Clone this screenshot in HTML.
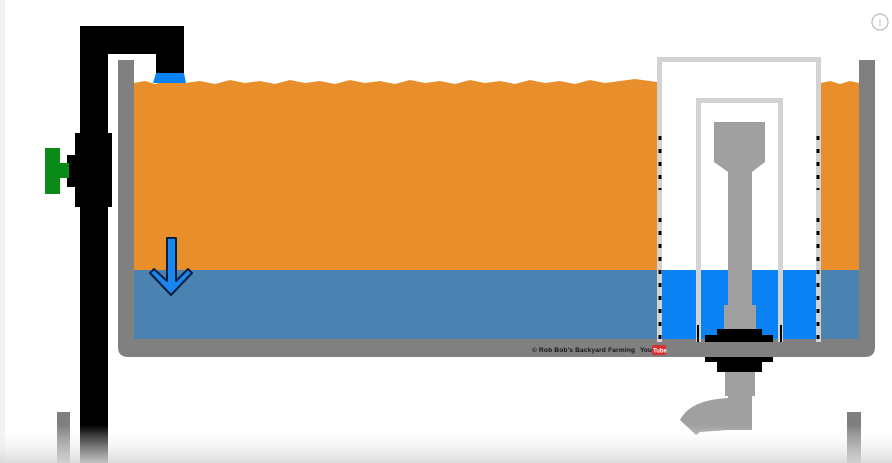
<!DOCTYPE html>
<html><head><meta charset="utf-8"><style>
html,body{margin:0;padding:0;width:892px;height:463px;overflow:hidden;background:#fff}
svg{display:block}
</style></head><body>
<svg width="892" height="463" viewBox="0 0 892 463" xmlns="http://www.w3.org/2000/svg">
<defs>
<linearGradient id="fade" x1="0" y1="0" x2="0" y2="1">
<stop offset="0" stop-color="#ffffff" stop-opacity="0"/>
<stop offset="1" stop-color="#d8d8d8" stop-opacity="0.9"/>
</linearGradient>
</defs>
<rect x="0" y="0" width="892" height="463" fill="#ffffff"/>
<rect x="0" y="0" width="5" height="463" fill="#f2f2f2"/>
<rect x="57" y="412" width="13" height="51" fill="#7f7f7f"/>
<rect x="847" y="412" width="14" height="51" fill="#7f7f7f"/>
<g>
<path d="M134 83 L145 81 L155 84 L170 80 L185 83 L200 81 L215 84 L230 80 L245 83 L260 81 L275 84 L290 80 L305 83 L320 81 L335 84 L350 80 L365 83 L380 81 L395 84 L410 80 L425 83 L440 81 L455 84 L470 80 L485 83 L500 81 L515 84 L530 80 L545 83 L560 81 L575 84 L590 80 L605 83 L620 81 L635 79 L657 82 L657 270 L134 270 Z" fill="#e88f2b"/>
<path d="M821 83 L830 81 L840 84 L850 81 L859 83 L859 270 L821 270 Z" fill="#e88f2b"/>
</g>
<rect x="134" y="270" width="525" height="72" fill="#4a83b1"/>
<rect x="819" y="270" width="40" height="72" fill="#4a83b1"/>
<rect x="661" y="270" width="157" height="72" fill="#0a82f5"/>
<path d="M118 60 H134 V339 H859 V60 H875 V347 Q875 357 865 357 H128 Q118 357 118 347 Z" fill="#808080"/>
<path d="M657 57 H821 V342 H816 V62 H662 V342 H657 Z" fill="#d3d3d3"/>
<path d="M696 98 H783 V342 H778 V103 H701 V342 H696 Z" fill="#d3d3d3"/>
<g stroke="#000" stroke-width="3" stroke-dasharray="4,9">
<line x1="660" y1="136" x2="660" y2="190"/>
<line x1="660" y1="218" x2="660" y2="342"/>
<line x1="818" y1="136" x2="818" y2="190"/>
<line x1="818" y1="218" x2="818" y2="342"/>
</g>
<rect x="697" y="325" width="2" height="17" fill="#000"/>
<rect x="780" y="325" width="2" height="17" fill="#000"/>
<path d="M714 122 H765 V162 L752 172 V305 H756 V330 H724 V305 H728 V172 L714 162 Z" fill="#a0a0a0"/>
<path d="M717 329 H762 V335 H773 V342 H705 V335 H717 Z" fill="#000"/>
<path d="M705 357 H773 V362 H762 V372 H717 V362 H705 Z" fill="#000"/>
<path d="M725 372 H755 V396 H752 V430 H728 L700 432 L696 435 L680 420 Q690 400 728 398 V396 H725 Z" fill="#a0a0a0"/>
<path d="M80 26 H184 V73 H156 V54 H108 V463 H80 Z" fill="#000"/>
<path d="M156 73 H184 L186 83 H153 Z" fill="#0a82f5"/>
<rect x="75" y="133" width="37" height="74" fill="#000"/>
<rect x="67" y="155" width="9" height="32" fill="#000"/>
<rect x="45" y="148" width="15" height="46" fill="#0a8a16"/>
<rect x="59" y="163" width="10" height="15" fill="#0a8a16"/>
<path d="M167 238 H176 V281 L188 269 L192 273 L171 295 L150 273 L154 269 L167 281 Z" fill="#1a86f0" stroke="#0b1f40" stroke-width="2" stroke-linejoin="round"/>
<text x="532" y="352" font-family="Liberation Sans, sans-serif" font-size="6.5" font-weight="bold" fill="#111" textLength="103">© Rob Bob's Backyard Farming</text>
<text x="640" y="352" font-family="Liberation Sans, sans-serif" font-size="6.5" font-weight="bold" fill="#111">You</text>
<rect x="652" y="345" width="14" height="10" rx="2" fill="#d93030"/>
<text x="653" y="352.5" font-family="Liberation Sans, sans-serif" font-size="6" font-weight="bold" fill="#fff">Tube</text>
<rect x="0" y="425" width="892" height="38" fill="url(#fade)"/>
<g>
<circle cx="880" cy="22" r="8" fill="none" stroke="#bbb" stroke-width="1.2"/>
<text x="880" y="26" text-anchor="middle" font-family="Liberation Sans, sans-serif" font-size="11" fill="#bbb">i</text>
</g>
</svg>
</body></html>
